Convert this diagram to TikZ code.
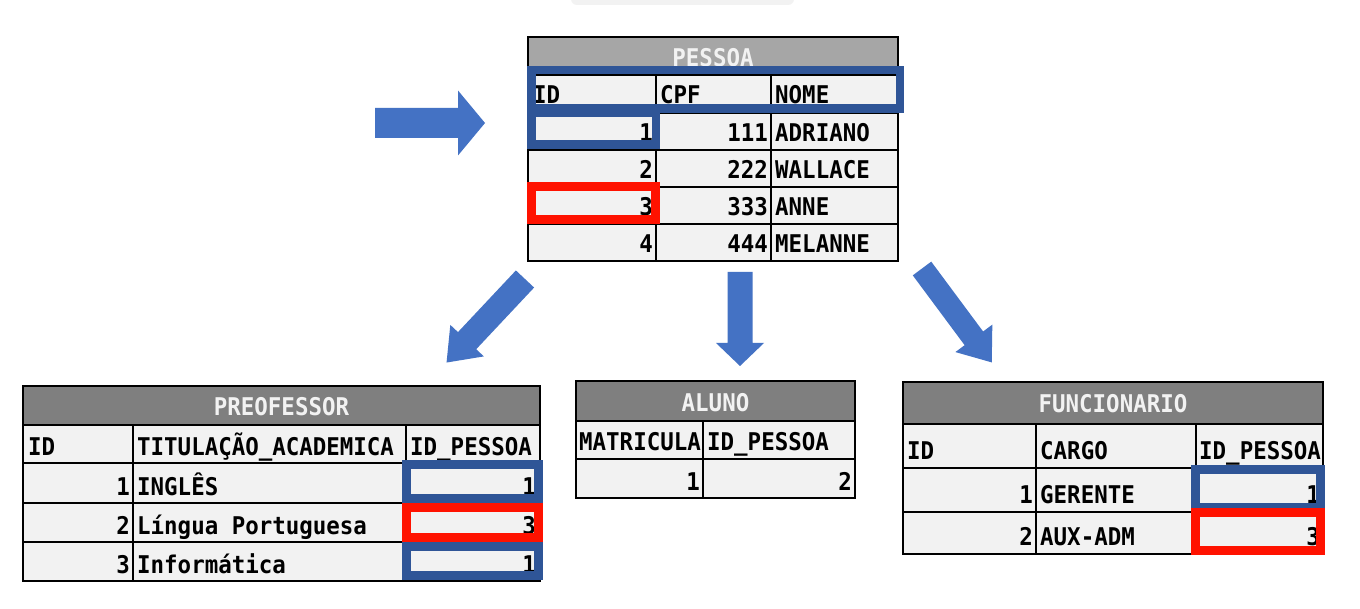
\documentclass[tikz,border=0pt]{standalone}
\usepackage{fontspec}
\setmonofont{DejaVu Sans Mono}[FakeStretch=0.92]
\definecolor{cellfill}{HTML}{F2F2F2}
\definecolor{ttllight}{HTML}{A6A6A6}
\definecolor{ttldark}{HTML}{7F7F7F}
\definecolor{hlblue}{HTML}{2F5597}
\definecolor{hlred}{HTML}{FF1200}
\definecolor{arrowblue}{HTML}{4472C4}
\newcommand\blkarrow[6]{%
  \fill[arrowfill, shift={#1}, rotate=#2] (0,-#4) -- ({#3-#6},-#4) -- ({#3-#6},-#5) -- (#3,0) -- ({#3-#6},#5) -- ({#3-#6},#4) -- (0,#4) -- cycle;}
\tikzset{
  every node/.style={font=\ttfamily\bfseries\fontsize{24.4}{28}\selectfont, inner sep=0pt},
  cell/.style={draw=black, line width=1.8pt, fill=cellfill},
  ttlA/.style={draw=black, line width=1.8pt, fill=ttllight},
  ttlB/.style={draw=black, line width=1.8pt, fill=ttldark},
  tl/.style={anchor=base west},
  tr/.style={anchor=base east},
  tc/.style={anchor=base, text=cellfill},
  hlb/.style={draw=hlblue, line width=8.5pt, miter limit=10},
  hlr/.style={draw=hlred, line width=9pt, miter limit=10},
  arrowfill/.style={fill=arrowblue}
}
\begin{document}
\begin{tikzpicture}[x=1pt,y=-1pt]
\useasboundingbox (0,0) rectangle (1360,609);
\fill[white] (0,0) rectangle (1360,609);
% faint shape at top
\fill[black!5, rounded corners=6pt] (571,-10) rectangle (794,5);

% ---------------- PESSOA ----------------
\filldraw[ttlA] (528,37) rectangle (898,75);
\foreach \ya/\yb in {75/113,113/150,150/187,187/224,224/261}
  \foreach \xa/\xb in {528/656,656/771,771/898}
    \filldraw[cell] (\xa,\ya) rectangle (\xb,\yb);
\node[tc] (pT) at (713,67) {PESSOA};
\node[tl] (pH1) at (533,104) {ID};
\node[tl] (pH2) at (660,104) {CPF};
\node[tl] (pH3) at (775,104) {NOME};
\node[tr] (p11) at (653,142) {1};
\node[tr] (p12) at (768,142) {111};
\node[tl] (p13) at (775,142) {ADRIANO};
\node[tr] (p21) at (653,179) {2};
\node[tr] (p22) at (768,179) {222};
\node[tl] (p23) at (775,179) {WALLACE};
\node[tr] (p31) at (653,216) {3};
\node[tr] (p32) at (768,216) {333};
\node[tl] (p33) at (775,216) {ANNE};
\node[tr] (p41) at (653,253) {4};
\node[tr] (p42) at (768,253) {444};
\node[tl] (p43) at (775,253) {MELANNE};

% ---------------- PREOFESSOR ----------------
\filldraw[ttlB] (23,386) rectangle (540,425);
\foreach \ya/\yb in {425/463,463/503,503/542,542/581}
  \foreach \xa/\xb in {23/133,133/406,406/540}
    \filldraw[cell] (\xa,\ya) rectangle (\xb,\yb);
\node[tc] (rT) at (281.5,416) {PREOFESSOR};
\node[tl] (rH1) at (28,455) {ID};
\node[tl] (rH2) at (137,455) {TITULAÇÃO\_ACADEMICA};
\node[tl] (rH3) at (410,455) {ID\_PESSOA};
\node[tr] (r11) at (130,495) {1};
\node[tl] (r12) at (137,495) {INGLÊS};
\node[tr] (r13) at (536,495) {1};
\node[tr] (r21) at (130,534) {2};
\node[tl] (r22) at (137,534) {Língua Portuguesa};
\node[tr] (r23) at (536,534) {3};
\node[tr] (r31) at (130,573) {3};
\node[tl] (r32) at (137,573) {Informática};
\node[tr] (r33) at (536,573) {1};

% ---------------- ALUNO ----------------
\filldraw[ttlB] (576,381) rectangle (855,421);
\foreach \ya/\yb in {421/459,459/498}
  \foreach \xa/\xb in {576/703,703/855}
    \filldraw[cell] (\xa,\ya) rectangle (\xb,\yb);
\node[tc] (aT) at (715.5,412) {ALUNO};
\node[tl] (aH1) at (579,450) {MATRICULA};
\node[tl] (aH2) at (707,450) {ID\_PESSOA};
\node[tr] (a11) at (700,490) {1};
\node[tr] (a12) at (852,490) {2};

% ---------------- FUNCIONARIO ----------------
\filldraw[ttlB] (903,382) rectangle (1323,424);
\foreach \ya/\yb in {424/468,468/512,512/554}
  \foreach \xa/\xb in {903/1036,1036/1196,1196/1323}
    \filldraw[cell] (\xa,\ya) rectangle (\xb,\yb);
\node[tc] (fT) at (1113,413) {FUNCIONARIO};
\node[tl] (fH1) at (907,459) {ID};
\node[tl] (fH2) at (1040,459) {CARGO};
\node[tl] (fH3) at (1199,459) {ID\_PESSOA};
\node[tr] (f11) at (1033,503) {1};
\node[tl] (f12) at (1040,503) {GERENTE};
\node[tr] (f13) at (1320,503) {1};
\node[tr] (f21) at (1033,545) {2};
\node[tl] (f22) at (1040,545) {AUX-ADM};
\node[tr] (f23) at (1320,545) {3};

% ---------------- highlight boxes ----------------
\draw[hlb] (531.25,70.25) rectangle (899.75,108.75);
\draw[hlb] (531.25,113.25) rectangle (655.75,144.75);
\draw[hlr] (531.5,186.5) rectangle (655.5,219.5);
\draw[hlb] (406.5,464.5) rectangle (538.5,498.5);
\draw[hlb] (406.5,546.5) rectangle (538.5,575.5);
\draw[hlr] (406.5,507.5) rectangle (538.5,537.5);
\draw[hlb] (1195.5,469.5) rectangle (1320.5,507.5);
\draw[hlr] (1195.5,512.5) rectangle (1320.5,550.5);

% ---------------- block arrows ----------------
\blkarrow{(375,123)}{0}{110}{15}{32.5}{27}
\blkarrow{(525,279)}{226.8}{114.6}{12.5}{23}{30}
\blkarrow{(740,272)}{270}{94}{12.5}{24}{23}
\blkarrow{(922,268.5)}{-53.4}{117}{11.5}{23}{30}
\end{tikzpicture}
\end{document}
